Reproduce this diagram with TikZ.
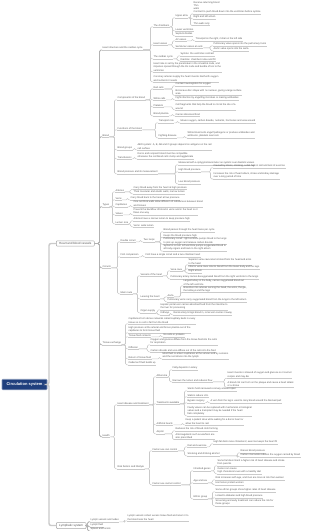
\documentclass[tikz,border=0pt]{standalone}
\usepackage{fontspec}
\setmainfont{Liberation Sans}
\definecolor{rootblue}{HTML}{1F3F7D}
\definecolor{linegrey}{HTML}{CACACA}
\definecolor{txtgrey}{HTML}{555555}
\newcommand\mmfont{\fontsize{2.45}{3.25}\selectfont}
\tikzset{
  rootbox/.style={fill=rootblue, draw=rootblue!55!white, line width=0.6pt, text=white, font=\bfseries\fontsize{4}{5}\selectfont, minimum width=45pt, minimum height=10.5pt, rounded corners=0.8pt, inner sep=1pt},
  branch/.style={anchor=west, draw=gray!70, fill=white, text=txtgrey, font=\fontsize{3}{3.6}\selectfont, rounded corners=1pt, inner xsep=3pt, inner ysep=1.6pt, line width=0.5pt},
  topic/.style={anchor=south west, inner xsep=0.4pt, inner ysep=0.5pt, align=left, text=txtgrey, font=\mmfont, append after command={(\tikzlastnode.south west) edge[uline] (\tikzlastnode.south east)}},
  uline/.style={draw=linegrey, line width=0.45pt},
  conn/.style={draw=linegrey, line width=0.55pt, rounded corners=1.2pt},
  subconn/.style={draw=gray!60, line width=0.8pt, rounded corners=1.5pt},
  mainconn/.style={draw=linegrey, line width=1.4pt, rounded corners=2pt}
}
\begin{document}
\begin{tikzpicture}[x=1pt,y=-1pt]
 \useasboundingbox (0,0) rectangle (310,531);
 \node[rootbox] (root) at (24.5,384.5) {Circulation system};
 \node[branch] (hb) at (56,243.5) {Heart and blood vessels};
 \node[branch] (lym) at (56,525.5) {Lymphatic system};
 % level 2
 \node[topic] (heart) at (102,50) {Heart structure and the cardiac cycle};
 \node[topic] (blood) at (102,136.8) {Blood};
 \node[topic] (types) at (102,206.8) {Types};
 \node[topic] (circ) at (102,267.8) {Circuits};
 \node[topic] (exch) at (102,344.8) {Tissue exchange};
 \node[topic] (hlth) at (102,436.8) {Health};
 % heart
 \node[topic] (cham) at (153,26.8) {The chambers};
 \node[topic] (atr) at (175,17.8) {Upper atria};
 \node[topic] (atr1) at (193,14) {Receive returning blood\\Thin\\walls\\Contract to push blood down into the ventricles before systole};
 \node[topic] (atr2) at (193,18.8) {Right and left atrium};
 \node[topic] (atr3) at (193,25.5) {Thin walls only};
 \node[topic] (vent) at (175,30.8) {Lower ventricles};
 \node[topic] (sept) at (175,35.8) {Septum divides};
 \node[topic] (valv) at (153,44.8) {Heart valves};
 \node[topic] (avv) at (175,40.8) {AV valves};
 \node[topic] (avv1) at (195,40.8) {Tricuspid on the right, mitral on the left side};
 \node[topic] (slv) at (175,47.8) {Semilunar valves at exits};
 \node[topic] (slv1) at (213,45.8) {Pulmonary valve opens into the pulmonary trunk};
 \node[topic] (slv2) at (213,50.8) {Aortic valve opens into the aorta};
 \node[topic] (cyc) at (153,58.8) {The cardiac cycle};
 \node[topic] (sys) at (180,55.8) {Systole: the ventricles contract};
 \node[topic] (dia) at (180,60.8) {Diastole: chambers relax and fill};
 \node[topic] (pace) at (153,71.8) {Heart rate is set by the pacemaker in the sinoatrial node, and\\impulses spread through the AV node and bundle of His to the\\ventricles};
 \node[topic] (coro) at (153,81.8) {Coronary arteries supply the heart muscle itself with oxygen\\and nutrients it needs};
 % blood
 \node[topic] (comp) at (117,99.8) {Components of the blood};
 \node[topic] (rbc) at (153,89) {Red cells};
 \node[topic] (rbc1) at (175,85.8) {Contain haemoglobin for oxygen};
 \node[topic] (rbc2) at (175,95.3) {Biconcave disc shape with no nucleus, giving a large surface\\area};
 \node[topic] (wbc) at (153,99.8) {White cells};
 \node[topic] (wbc1) at (175,99.8) {Fight infection by engulfing microbes or making antibodies};
 \node[topic] (plt) at (153,106.8) {Platelets};
 \node[topic] (plt1) at (175,109.8) {Cell fragments that help the blood to clot at the site of a\\wound};
 \node[topic] (pls) at (153,115.8) {Blood plasma};
 \node[topic] (pls1) at (175,115.8) {Carries dissolved food};
 \node[topic] (func) at (117,129.8) {Functions of the blood};
 \node[topic] (trn) at (158,122.8) {Transport role};
 \node[topic] (trn1) at (180,122.8) {Moves oxygen, carbon dioxide, nutrients, hormones and urea around};
 \node[topic] (dfn) at (158,137.8) {Fighting disease};
 \node[topic] (dfn1) at (187,137.8) {White blood cells engulf pathogens or produce antibodies and\\antitoxins, platelets seal cuts};
 \node[topic] (grp) at (117,149.8) {Blood groups};
 \node[topic] (grp1) at (137,149.8) {ABO system: A, B, AB and O groups depend on antigens on the red\\cell surface};
 \node[topic] (trf) at (117,158.8) {Transfusions};
 \node[topic] (trf1) at (137,158.8) {Donor and recipient blood must be compatible\\otherwise the red blood cells clump and agglutinate};
 \node[topic] (bp) at (117,173.8) {Blood pressure and its measurement};
 \node[topic] (bp1) at (178,164.8) {Measured with a sphygmomanometer as systolic over diastolic values};
 \node[topic] (bp2) at (178,171.8) {High blood pressure};
 \node[topic] (bp21) at (213,167.8) {Caused by stress, smoking, a diet high in salt and lack of exercise};
 \node[topic] (bp22) at (213,179) {Increases the risk of heart attack, stroke and kidney damage\\over a long period of time};
 \node[topic] (bp3) at (178,183.8) {Low blood pressure};
 % types
 \node[topic] (art) at (115,191.8) {Arteries};
 \node[topic] (art1) at (133,189.3) {Carry blood away from the heart at high pressure};
 \node[topic] (art2) at (133,193.8) {Thick muscular and elastic walls, narrow lumen};
 \node[topic] (vei) at (115,199.8) {Veins};
 \node[topic] (vei1) at (130,199.8) {Carry blood back to the heart at low pressure};
 \node[topic] (cap) at (115,206.8) {Capillaries};
 \node[topic] (cap1) at (133,206.8) {One cell thick walls allow diffusion of substances between blood\\and tissues};
 \node[topic] (vlv) at (115,214.8) {Valves};
 \node[topic] (vlv1) at (133,214.8) {Prevent the backflow of blood in veins and in the heart so it\\flows one way};
 \node[topic] (lum) at (115,223.8) {Lumen size};
 \node[topic] (lum1) at (133,220.8) {Arteries have a narrow lumen to keep pressure high};
 \node[topic] (lum2) at (133,226.8) {Veins: wide lumen};
 % circuits
 \node[topic] (dbl) at (120,241.8) {Double circuit};
 \node[topic] (two) at (143,241.8) {Two loops};
 \node[topic] (two1) at (163,231.8) {Blood passes through the heart twice per cycle};
 \node[topic] (two2) at (163,237.3) {Keeps the blood pressure high};
 \node[topic] (two3) at (163,244.3) {Pulmonary circuit: right ventricle pumps blood to the lungs\\to pick up oxygen and release carbon dioxide};
 \node[topic] (two4) at (163,251.2) {Systemic circuit: left ventricle pumps oxygenated blood to\\all body organs and back to the right atrium};
 \node[topic] (fish) at (120,256.8) {Fish comparison};
 \node[topic] (fish1) at (145,256.8) {Fish have a single circuit and a two-chamber heart};
 \node[topic] (route) at (120,293.8) {Main route};
 \node[topic] (hv) at (140,275.8) {Vessels of the heart};
 \node[topic] (vc) at (170,270.8) {Vena cava};
 \node[topic] (vc1) at (188,264.8) {Superior vena cava returns blood from the head and arms\\to the heart};
 \node[topic] (vc2) at (188,268.8) {Inferior vena cava returns blood from the lower body and the legs};
 \node[topic] (vc3) at (188,273) {Right atrium};
 \node[topic] (pa) at (170,278.8) {Pulmonary artery carries deoxygenated blood from the right ventricle to the lungs};
 \node[topic] (lv) at (140,298.8) {Leaving the heart};
 \node[topic] (aor) at (167,296.8) {Aorta};
 \node[topic] (aor1) at (183,285.8) {Largest artery in the body, carries oxygenated blood out\\of the left ventricle};
 \node[topic] (aor2) at (183,292.5) {Branches into arteries serving the head, the arms, the gut,\\the kidneys and the legs};
 \node[topic] (pv) at (167,301.8) {Pulmonary veins carry oxygenated blood from the lungs to the left atrium};
 \node[topic] (org) at (140,312.8) {Organ supply};
 \node[topic] (org1) at (160,309.8) {Hepatic portal vein carries absorbed food from the intestine to\\the liver for processing};
 \node[topic] (org2) at (160,314.8) {Kidneys};
 \node[topic] (org21) at (173,314.8) {Renal artery brings blood in, renal vein carries it away};
 % tissue exchange
 \node[topic] (beds) at (128,323.8) {Capillaries form dense networks called capillary beds in every\\tissue so no cell is far from the blood};
 \node[topic] (form) at (128,332.8) {High pressure at the arterial end forces plasma out of the\\capillaries to form tissue fluid};
 \node[topic] (cont) at (128,336.8) {Tissue fluid contents};
 \node[topic] (cont1) at (163,336.8) {No cells or proteins};
 \node[topic] (diff) at (128,348.8) {Diffusion};
 \node[topic] (diff1) at (150,344.8) {Oxygen and glucose diffuse from the tissue fluid into the cells\\for respiration};
 \node[topic] (diff2) at (150,351.8) {Carbon dioxide and urea diffuse out of the cells into the fluid};
 \node[topic] (ret) at (128,358.8) {Return of tissue fluid};
 \node[topic] (ret1) at (162,358.8) {Most fluid re-enters capillaries at the venous end by osmosis\\and the rest drains into the lymph};
 \node[topic] (oed) at (128,364.8) {Oedema if fluid builds up};
 % health
 \node[topic] (chd) at (117,404.8) {Heart disease and treatment};
 \node[topic] (ath) at (156,376.8) {Atheroma};
 \node[topic] (ath1) at (172,369.8) {Fatty deposits in artery};
 \node[topic] (ath2) at (172,381.8) {Narrows the lumen and reduces flow};
 \node[topic] (ath21) at (227,378.3) {Heart muscle is starved of oxygen and glucose so it cannot\\respire and may die};
 \node[topic] (ath22) at (227,387.3) {A blood clot can form on the plaque and cause a heart attack\\or a stroke};
 \node[topic] (trt) at (156,403.8) {Treatments available};
 \node[topic] (trt1) at (187,390.8) {Stents hold narrowed coronary arteries open};
 \node[topic] (trt2) at (187,396.8) {Statins reduce LDL};
 \node[topic] (trt3) at (187,402.8) {Bypass surgery};
 \node[topic] (trt31) at (210,402.8) {A vein from the leg is used to carry blood around the blocked part};
 \node[topic] (trt4) at (187,415.8) {Faulty valves can be replaced with mechanical or biological\\valves and a transplant may be needed if the heart\\fails completely};
 \node[topic] (arth) at (156,424.8) {Artificial hearts};
 \node[topic] (arth1) at (185,424.8) {Keep a patient alive while waiting for a donor heart or\\allow the heart to rest};
 \node[topic] (drug) at (156,433.8) {Aspirin};
 \node[topic] (drug1) at (175,430.8) {Reduces the risk of blood clots forming};
 \node[topic] (drug2) at (175,439.5) {Anticoagulants such as warfarin are\\also prescribed};
 \node[topic] (risk) at (117,468.8) {Risk factors and lifestyle};
 \node[topic] (ctl) at (152,450.8) {Factors we can control};
 \node[topic] (diet) at (187,446.8) {Diet and exercise};
 \node[topic] (diet1) at (213,443.8) {High fat diets raise cholesterol; exercise keeps the heart fit};
 \node[topic] (smk) at (187,455.8) {Smoking and drinking alcohol};
 \node[topic] (smk1) at (240,452.8) {Raises blood pressure};
 \node[topic] (smk2) at (240,456.8) {Carbon monoxide reduces the oxygen carried by blood};
 \node[topic] (unc) at (152,484.8) {Factors we cannot control};
 \node[topic] (gen) at (193,470.8) {Inherited genes};
 \node[topic] (gen1) at (217,465.8) {Some families inherit a higher risk of heart disease and stroke\\from parents};
 \node[topic] (gen2) at (217,473.8) {Genes can cause\\high cholesterol even with a healthy diet};
 \node[topic] (age) at (193,482.8) {Age and sex};
 \node[topic] (age1) at (215,479.8) {Risk increases with age, and men are more at risk than women};
 \node[topic] (age2) at (215,484.8) {Hormones protect women};
 \node[topic] (eth) at (193,498.8) {Ethnic group};
 \node[topic] (eth1) at (215,491.8) {Some ethnic groups show higher rates of heart disease};
 \node[topic] (eth2) at (215,497.8) {Linked to diabetes and high blood pressure};
 \node[topic] (eth3) at (215,505.8) {Screening and early treatment can reduce the risk for\\these groups};
 % lymph
 \node[topic] (lnd) at (90,521.8) {Lymph vessels and nodes};
 \node[topic] (lnd1) at (127,520.8) {Lymph vessels collect excess tissue fluid and return it to\\the blood near the heart};
 \node[topic] (lymp) at (90,526.8) {Lymph fluid};
 \node[topic] (spl) at (90,531) {Spleen and tonsils};
 % connectors
 \foreach \c in {hb,lym}
  \draw[mainconn] (root.east) -| ([xshift=-7pt]\c.west) -- (\c.west);
 \foreach \c in {heart,blood,types,circ,exch,hlth}
  \draw[subconn] (hb.east) -| ([xshift=-2.5pt]\c.south west) -- (\c.south west);
 \foreach \c in {lnd,lymp,spl}
  \draw[subconn] (lym.east) -| ([xshift=-2.5pt]\c.south west) -- (\c.south west);
 \foreach \p/\c in {heart/cham,heart/valv,heart/cyc,heart/pace,heart/coro,cham/atr,cham/vent,cham/sept,atr/atr1,atr/atr2,atr/atr3,
   valv/avv,valv/slv,avv/avv1,slv/slv1,slv/slv2,cyc/sys,cyc/dia,
   blood/comp,blood/func,blood/grp,blood/trf,blood/bp,comp/rbc,comp/wbc,comp/plt,comp/pls,rbc/rbc1,rbc/rbc2,wbc/wbc1,plt/plt1,pls/pls1,
   func/trn,func/dfn,trn/trn1,dfn/dfn1,grp/grp1,trf/trf1,bp/bp1,bp/bp2,bp/bp3,bp2/bp21,bp2/bp22,
   types/art,types/vei,types/cap,types/vlv,types/lum,art/art1,art/art2,vei/vei1,cap/cap1,vlv/vlv1,lum/lum1,lum/lum2,
   circ/dbl,circ/fish,circ/route,dbl/two,two/two1,two/two2,two/two3,two/two4,fish/fish1,
   route/hv,route/lv,route/org,hv/vc,hv/pa,vc/vc1,vc/vc2,vc/vc3,lv/aor,lv/pv,aor/aor1,aor/aor2,org/org1,org/org2,org2/org21,
   exch/beds,exch/form,exch/cont,exch/diff,exch/ret,exch/oed,cont/cont1,diff/diff1,diff/diff2,ret/ret1,
   hlth/chd,hlth/risk,chd/ath,chd/trt,chd/arth,chd/drug,ath/ath1,ath/ath2,ath2/ath21,ath2/ath22,
   trt/trt1,trt/trt2,trt/trt3,trt/trt4,trt3/trt31,arth/arth1,drug/drug1,drug/drug2,
   risk/ctl,risk/unc,ctl/diet,ctl/smk,diet/diet1,smk/smk1,smk/smk2,unc/gen,unc/age,unc/eth,gen/gen1,gen/gen2,age/age1,age/age2,
   eth/eth1,eth/eth2,eth/eth3,lnd/lnd1}
  \draw[conn] (\p.south east) -| ([xshift=-2.5pt]\c.south west) -- (\c.south west);
\end{tikzpicture}
\end{document}
